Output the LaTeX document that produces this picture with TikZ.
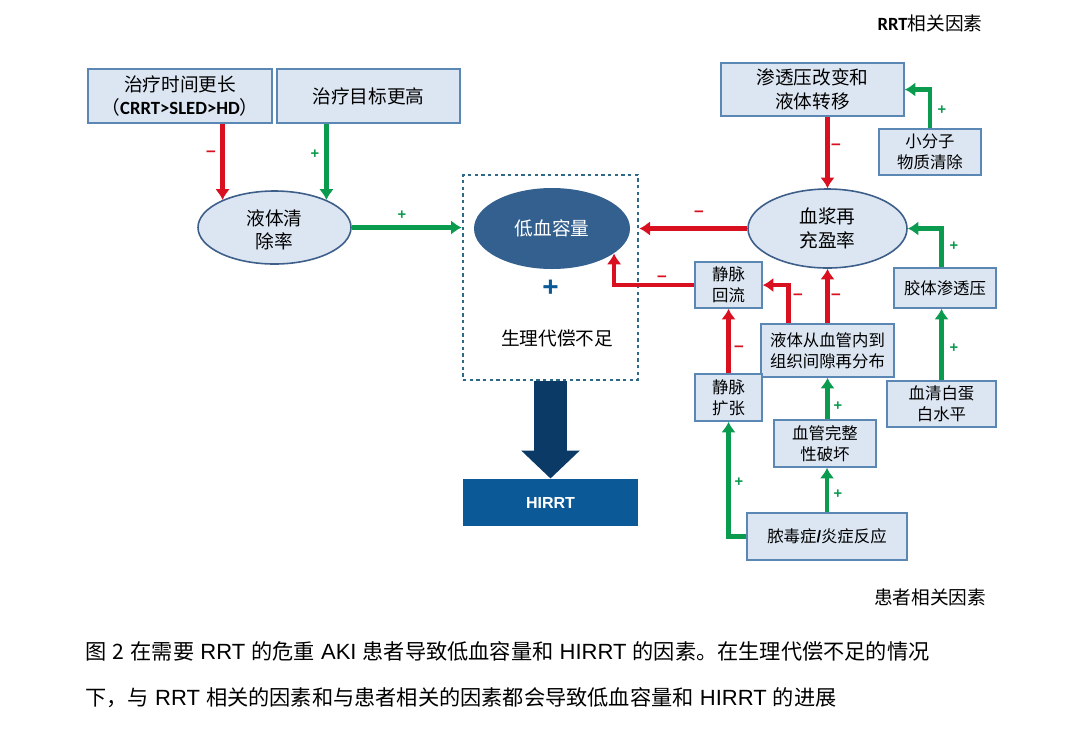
\documentclass[tikz,border=0pt]{standalone}
\usepackage{fontspec}
\setmainfont{Noto Sans CJK SC}
\newfontfamily\lib{Liberation Sans}
\newfontfamily\carl{Carlito}
\usetikzlibrary{arrows.meta,shapes.geometric}

\definecolor{boxfill}{RGB}{220,230,242}
\definecolor{boxline}{RGB}{91,135,181}
\definecolor{ellline}{RGB}{62,95,138}
\definecolor{hypofill}{RGB}{52,96,143}
\definecolor{hirrtfill}{RGB}{11,90,151}
\definecolor{bigarrow}{RGB}{11,58,102}
\definecolor{dashline}{RGB}{46,105,135}
\definecolor{redline}{RGB}{217,16,31}
\definecolor{greenline}{RGB}{10,155,78}

\tikzset{every picture/.style={line width=0.75pt}}
\tikzset{
  bluebox/.style={draw=boxline,fill=boxfill,line width=1.2pt,inner sep=0pt,align=center,font=\fontsize{12.3}{16}\selectfont},
  bigbox/.style={bluebox,font=\fontsize{14}{17.5}\selectfont},
  blueell/.style={ellipse,draw=ellline,fill=boxfill,line width=1.2pt,inner sep=0pt,align=center,font=\fontsize{14}{17.5}\selectfont},
  redarrow/.style={draw=redline,line width=3.4pt,-{Latex[length=8pt,width=11pt]}},
  greenarrow/.style={draw=greenline,line width=3.4pt,-{Latex[length=8pt,width=11pt]}},
  minussign/.style={text=redline,inner sep=0pt,font=\lib\bfseries\fontsize{13}{13}\selectfont},
  plussign/.style={text=greenline,inner sep=0pt,font=\lib\bfseries\fontsize{11}{11}\selectfont},
  plaintext/.style={inner sep=0pt,font=\fontsize{14}{19}\selectfont},
  caption/.style={inner sep=0pt,anchor=west,font=\fontsize{15.9}{20}\selectfont},
}
\newcommand{\lat}[1]{{\lib\fontsize{16.5}{20}\selectfont #1}}
\newcommand{\gap}{\hspace{4.6pt}}

\begin{document}
\begin{tikzpicture}[x=0.75pt,y=0.75pt,yscale=-1,xscale=1]
    \useasboundingbox (0,0) rectangle (1080,729);

    % Text Node
    \node [plaintext] (rrthead) at (930,23) {{\carl\bfseries RRT}相关因素};
    % Text Node
    \node [plaintext] (pathead) at (930,597) {患者相关因素};

    %Shape: Boxes left
    \node [bigbox,minimum width=138pt,minimum height=40.5pt] (longer) at (180,96) {治疗时间更长\\（{\carl\bfseries CRRT>SLED>HD}）};
    \node [bigbox,minimum width=137.25pt,minimum height=40.5pt] (target) at (368.5,96) {治疗目标更高};
    \node [blueell,minimum width=114.75pt,minimum height=54.75pt] (clearance) at (274.5,227.5) {\rule{0pt}{15pt}液体清\\除率};

    %Shape: Dashed box and centre
    \node [draw=dashline,line width=2pt,dash pattern=on 2.6pt off 2.4pt,minimum width=131.25pt,minimum height=153.75pt] (deficit) at (550.5,277.5) {};
    \node [ellipse,fill=hypofill,text=white,inner sep=0pt,minimum width=117pt,minimum height=60.75pt,font=\fontsize{14}{19}\selectfont] (hypo) at (552,228.5) {低血容量};
    \node [text=hirrtfill,inner sep=0pt,font=\lib\bfseries\fontsize{21}{21}\selectfont] (plus) at (550.5,288) {+};
    \node [plaintext] (physio) at (557,338) {生理代偿不足};
    \node [fill=hirrtfill,text=white,inner sep=0pt,minimum width=131.25pt,minimum height=35.25pt,font=\lib\bfseries\fontsize{12}{14}\selectfont] (hirrt) at (550.5,502.5) {HIRRT};

    %Shape: Boxes right
    \node [bigbox,minimum width=137.25pt,minimum height=39.75pt] (osmotic) at (812.5,89.5) {渗透压改变和\\液体转移};
    \node [bluebox,minimum width=76.5pt,minimum height=34.5pt] (solute) at (930,152) {小分子\\物质清除};
    \node [blueell,minimum width=119.25pt,minimum height=59.25pt] (refill) at (827.5,228.5) {血浆再\\充盈率};
    \node [bluebox,minimum width=50.25pt,minimum height=34.5pt] (venret) at (728.5,285) {静脉\\回流};
    \node [bluebox,minimum width=76.5pt,minimum height=30pt] (colloid) at (945,288) {胶体渗透压};
    \node [bluebox,minimum width=99.75pt,minimum height=39.75pt] (redist) at (827.5,350.5) {液体从血管内到\\组织间隙再分布};
    \node [bluebox,minimum width=50.25pt,minimum height=35.25pt] (vendil) at (728.5,397.5) {静脉\\扩张};
    \node [bluebox,minimum width=81.75pt,minimum height=34.5pt] (albumin) at (941.5,404) {血清白蛋\\白水平};
    \node [bluebox,minimum width=76.5pt,minimum height=35.25pt] (vessel) at (825,443.5) {血管完整\\性破坏};
    \node [bluebox,minimum width=120pt,minimum height=35.25pt] (sepsis) at (827,536.5) {脓毒症{\lib\bfseries /}炎症反应};

    %Straight Lines
    \draw [redarrow] (clearance.152 |- longer.south) -- (clearance.152);
    \draw [greenarrow] (clearance.28 |- target.south) -- (clearance.28);
    \draw [greenarrow] (clearance.east) -- (clearance.east -| deficit.west);
    \draw [redarrow] (refill.west) -- (refill.west -| deficit.east);
    \draw [redarrow] (refill.north |- osmotic.south) -- (refill.north);
    \draw [greenarrow] (solute.north) -- (solute.north |- osmotic.east) -- (osmotic.east);
    \draw [greenarrow] (colloid.north -| albumin.north) -- (albumin.north |- refill.east) -- (refill.east);
    \draw [greenarrow] (albumin.north) -- (albumin.north |- colloid.south);
    \draw [redarrow] (venret.west) -- (hypo.-22 |- venret.west) -- (hypo.-22);
    \draw [redarrow] ([xshift=-29.25pt]redist.north) -- ([xshift=-29.25pt]redist.north |- venret.east) -- (venret.east);
    \draw [redarrow] (redist.north) -- (refill.south);
    \draw [redarrow] (vendil.north) -- (venret.south);
    \draw [greenarrow] (redist.south |- vessel.north) -- (redist.south);
    \draw [greenarrow] (sepsis.north) -- (sepsis.north |- vessel.south);
    \draw [greenarrow] (sepsis.west) -- (sepsis.west -| vendil.south) -- (vendil.south);
    \draw [draw=bigarrow,line width=24.75pt,-{Triangle[length=21pt,width=42.75pt]}] (deficit.south) -- (hirrt.north);

    % Text Node
    \foreach \x/\y [count=\i] in {211/154,836/147,699/214,662/279,798/297,836/297,739/349}
      \node [minussign] (minus\i) at (\x,\y) {–};
    \foreach \x/\y [count=\i] in {315/154,402/215,942/110,954/246,954/348,838/406,739/482,838/494}
      \node [plussign] (plus\i) at (\x,\y) {+};

    % Text Node
    \node [caption] (capone) at (85,651) {图\gap 2\gap 在需要\gap\lat{RRT}\gap 的危重\gap\lat{AKI}\gap 患者导致低血容量和\gap\lat{HIRRT}\gap 的因素。在生理代偿不足的情况};
    % Text Node
    \node [caption] (captwo) at (85,698) {下，与\gap\lat{RRT}\gap 相关的因素和与患者相关的因素都会导致低血容量和\gap\lat{HIRRT}\gap 的进展};

\end{tikzpicture}
\end{document}
